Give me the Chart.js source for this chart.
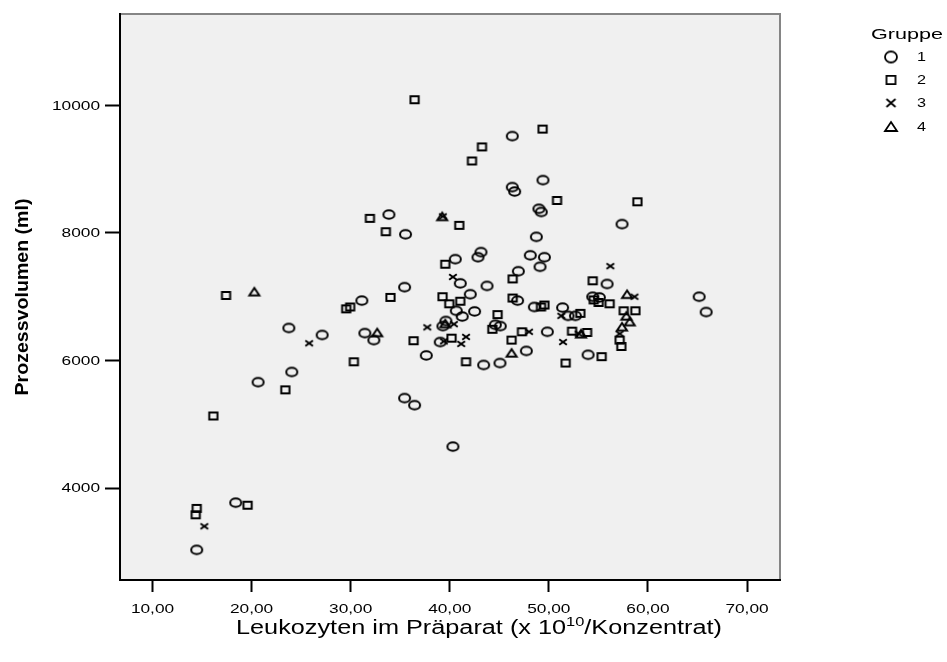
<!DOCTYPE html>
<html lang="de">
<head>
<meta charset="utf-8">
<title>Prozessvolumen nach Leukozyten</title>
<script src="https://cdn.jsdelivr.net/npm/chart.js@4.4.1/dist/chart.umd.min.js"></script>
<style>
  html, body { margin: 0; padding: 0; background: #fff; }
  #wrap { width: 947px; height: 662px; }
</style>
</head>
<body>
<div id="wrap"><canvas id="scatter" width="947" height="662"></canvas></div>
<script>
'use strict';

// Leukozyten im Präparat (x 10^10) / Prozessvolumen (ml), je Gruppe
const leukoG1 = [46.31, 49.41, 46.31, 46.55, 49.00, 49.24, 33.86, 35.54, 48.74, 48.13,
                 49.55, 49.11, 43.15, 42.85, 40.56, 46.92, 41.06, 43.76, 35.44, 42.07,
                 31.13, 46.85, 40.66, 42.51, 41.26, 48.54, 51.39, 51.94, 39.61, 39.31,
                 44.60, 45.10, 31.43, 32.34, 39.04, 49.85, 47.73, 37.63, 43.42, 45.07,
                 57.39, 55.88, 54.43, 55.10, 65.17, 65.88, 52.68, 53.96, 23.76, 27.12,
                 24.06, 20.66, 18.40, 14.46, 35.44, 36.45, 40.32];
const volG1   = [9520, 8830, 8720, 8650, 8380, 8330, 8290, 7980, 7940, 7650,
                 7620, 7470, 7700, 7620, 7590, 7400, 7210, 7170, 7150, 7040,
                 6940, 6940, 6780, 6770, 6690, 6840, 6830, 6700, 6620, 6540,
                 6560, 6540, 6430, 6320, 6290, 6450, 6150, 6080, 5930, 5960,
                 8140, 7200, 7000, 6990, 7000, 6760, 6700, 6090, 6510, 6400,
                 5820, 5660, 3770, 3030, 5410, 5300, 4650];

const leukoG2 = [36.45, 49.37, 43.25, 42.24, 50.83, 31.94, 40.96, 33.55, 39.55, 46.35,
                 34.02, 39.27, 41.06, 39.95, 46.35, 29.55, 29.95, 49.21, 49.55, 44.83,
                 44.30, 36.35, 40.18, 47.29, 52.34, 46.24, 30.32, 41.64, 51.70, 58.94,
                 54.43, 54.53, 55.03, 56.14, 57.56, 58.74, 57.15, 57.32, 53.18, 53.86,
                 55.33, 17.42, 23.41, 16.14, 19.60, 14.46, 14.36];
const volG2   = [10090, 9630, 9350, 9130, 8510, 8230, 8120, 8020, 7510, 7280,
                 6990, 7000, 6930, 6890, 6980, 6810, 6840, 6840, 6870, 6720,
                 6490, 6310, 6350, 6450, 6460, 6320, 5980, 5980, 5960, 8490,
                 7250, 6950, 6910, 6890, 6780, 6780, 6320, 6220, 6740, 6440,
                 6060, 7020, 5540, 5130, 3730, 3680, 3580];

const leukoG3 = [40.32, 40.42, 37.73, 39.41, 41.64, 41.16, 48.00, 51.43, 56.21, 58.64,
                 57.15, 51.26, 53.01, 25.81, 15.23, 39.30];
const volG3   = [7310, 6570, 6520, 6300, 6370, 6260, 6450, 6290, 7480, 7000,
                 6420, 6700, 6420, 6270, 3400, 8260];

const leukoG4 = [39.24, 39.55, 32.68, 46.24, 57.90, 57.83, 58.16, 57.39, 53.25, 20.28];
const volG4   = [8260, 6580, 6440, 6120, 7040, 6700, 6610, 6530, 6420, 7080];

const groupLabels = ['1', '2', '3', '4'];
const xTicks = [10, 20, 30, 40, 50, 60, 70];
const yTicks = [4000, 6000, 8000, 10000];

const FONT = '"Liberation Sans", Arial, Helvetica, sans-serif';
const INK = '#000';

// outline markers, a little wider than tall
function makeMarker(kind, w, h, lw) {
  const c = document.createElement('canvas');
  c.width = Math.ceil(w + lw * 2 + 2);
  c.height = Math.ceil(h + lw * 2 + 2);
  const ctx = c.getContext('2d');
  const cx = c.width / 2, cy = c.height / 2;
  ctx.strokeStyle = INK;
  ctx.lineWidth = lw;
  ctx.beginPath();
  if (kind === 'circle') {
    ctx.ellipse(cx, cy, w / 2, h / 2, 0, 0, Math.PI * 2);
  } else if (kind === 'square') {
    ctx.rect(cx - w / 2, cy - h / 2, w, h);
  } else if (kind === 'cross') {
    ctx.moveTo(cx - w / 2, cy - h / 2); ctx.lineTo(cx + w / 2, cy + h / 2);
    ctx.moveTo(cx + w / 2, cy - h / 2); ctx.lineTo(cx - w / 2, cy + h / 2);
  } else {
    ctx.moveTo(cx, cy - h / 2);
    ctx.lineTo(cx + w / 2, cy + h / 2);
    ctx.lineTo(cx - w / 2, cy + h / 2);
    ctx.closePath();
  }
  ctx.stroke();
  return c;
}

const plotMarkers = [
  makeMarker('circle', 11, 8.6, 2),
  makeMarker('square', 8.2, 7, 2),
  makeMarker('cross', 7.6, 5.6, 2),
  makeMarker('triangle', 10, 7.6, 2)
];
const legendMarkers = [
  makeMarker('circle', 12, 11, 1.8),
  makeMarker('square', 9, 8.4, 1.8),
  makeMarker('cross', 9, 8, 1.8),
  makeMarker('triangle', 12, 9, 1.8)
];

const pairs = (xs, ys) => xs.map((x, i) => ({ x: x, y: ys[i] }));
const series = [pairs(leukoG1, volG1), pairs(leukoG2, volG2), pairs(leukoG3, volG3), pairs(leukoG4, volG4)];

function stretchText(ctx, text, x, y, font, sx, align, baseline) {
  ctx.save();
  ctx.font = font;
  ctx.textAlign = align;
  ctx.textBaseline = baseline;
  ctx.translate(x, y);
  ctx.scale(sx, 1);
  ctx.fillText(text, 0, 0);
  ctx.restore();
}

// grey plot field, grey frame on top and right
const plotField = {
  id: 'plotField',
  beforeDraw(chart) {
    const { ctx, chartArea: a } = chart;
    ctx.save();
    ctx.fillStyle = '#f0f0f0';
    ctx.fillRect(a.left, a.top, a.right - a.left, a.bottom - a.top);
    ctx.strokeStyle = '#858585';
    ctx.lineWidth = 2;
    ctx.beginPath();
    ctx.moveTo(a.left, a.top);
    ctx.lineTo(a.right, a.top);
    ctx.lineTo(a.right, a.bottom);
    ctx.stroke();
    ctx.restore();
  }
};

// tick labels, axis titles and the group legend
const annotations = {
  id: 'annotations',
  afterDraw(chart) {
    const { ctx } = chart;
    const xs = chart.scales.x, ys = chart.scales.y;
    ctx.save();
    ctx.fillStyle = INK;

    xs.ticks.forEach(t => {
      const px = xs.getPixelForValue(t.value);
      stretchText(ctx, t.value.toFixed(2).replace('.', ','), px, 609, '13.5px ' + FONT, 1.28, 'center', 'middle');
    });
    ys.ticks.forEach(t => {
      const py = ys.getPixelForValue(t.value);
      stretchText(ctx, String(t.value), 100, py + 0.5, '13.5px ' + FONT, 1.28, 'right', 'middle');
    });

    // x title with superscript exponent
    const partA = 'Leukozyten im Präparat (x 10';
    const partSup = '10';
    const partB = '/Konzentrat)';
    const mainFont = '20px ' + FONT, supFont = '13px ' + FONT;
    ctx.font = mainFont;
    const wA = ctx.measureText(partA).width, wB = ctx.measureText(partB).width;
    ctx.font = supFont;
    const wS = ctx.measureText(partSup).width;
    const sx = 486 / (wA + wS + wB);
    ctx.save();
    ctx.translate(236, 634);
    ctx.scale(sx, 1);
    ctx.textAlign = 'left';
    ctx.textBaseline = 'alphabetic';
    ctx.font = mainFont;
    ctx.fillText(partA, 0, 0);
    ctx.font = supFont;
    ctx.fillText(partSup, wA, -8);
    ctx.font = mainFont;
    ctx.fillText(partB, wA + wS, 0);
    ctx.restore();

    // y title, bold, rotated
    const yTitle = 'Prozessvolumen (ml)';
    ctx.font = 'bold 18px ' + FONT;
    const wy = ctx.measureText(yTitle).width;
    ctx.save();
    ctx.translate(23, 297);
    ctx.rotate(-Math.PI / 2);
    ctx.scale(197 / wy, 1);
    ctx.textAlign = 'center';
    ctx.textBaseline = 'middle';
    ctx.fillText(yTitle, 0, 0);
    ctx.restore();

    // legend
    ctx.font = '15px ' + FONT;
    const wg = ctx.measureText('Gruppe').width;
    stretchText(ctx, 'Gruppe', 871, 39, '15px ' + FONT, 72 / wg, 'left', 'alphabetic');
    const rowY = [57, 80, 103, 126.5];
    groupLabels.forEach((g, i) => {
      const m = legendMarkers[i];
      ctx.drawImage(m, 891 - m.width / 2, rowY[i] - m.height / 2);
      stretchText(ctx, g, 917, rowY[i] + 0.5, '13.5px ' + FONT, 1.2, 'left', 'middle');
    });
    ctx.restore();
  }
};

const axisLine = { color: '#000', width: 2 };
const tickMarks = (len) => ({
  display: true, drawOnChartArea: false, drawTicks: true,
  tickLength: len, tickWidth: 2, tickColor: '#000'
});

new Chart(document.getElementById('scatter'), {
  type: 'scatter',
  data: {
    datasets: series.map((pts, i) => ({
      label: groupLabels[i],
      data: pts,
      pointStyle: plotMarkers[i],
      pointRadius: 6,
      pointHoverRadius: 6,
      showLine: false
    }))
  },
  options: {
    responsive: false,
    animation: false,
    events: [],
    layout: { padding: { left: 0, top: 14, right: 167, bottom: 0 } },
    plugins: { legend: { display: false }, tooltip: { enabled: false } },
    scales: {
      x: {
        type: 'linear', min: 6.72, max: 73.33,
        border: axisLine, grid: tickMarks(12),
        ticks: { display: false },
        afterBuildTicks: s => { s.ticks = xTicks.map(v => ({ value: v })); },
        afterFit: s => { s.height = 82; }
      },
      y: {
        type: 'linear', min: 2557, max: 11435,
        border: axisLine, grid: tickMarks(15),
        ticks: { display: false },
        afterBuildTicks: s => { s.ticks = yTicks.map(v => ({ value: v })); },
        afterFit: s => { s.width = 120; }
      }
    }
  },
  plugins: [plotField, annotations]
});
</script>
</body>
</html>
